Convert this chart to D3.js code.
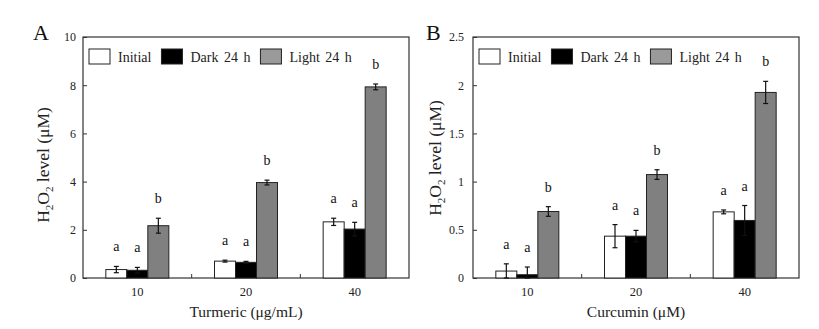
<!DOCTYPE html>
<html><head><meta charset="utf-8">
<script src="https://cdn.jsdelivr.net/npm/d3@7"></script>
<style>
body{margin:0;background:#fff;}
svg{display:block;font-family:"Liberation Serif","Times New Roman",serif;}
</style></head>
<body><svg id="c" width="819" height="329"></svg>
<script>
const categories = ["10", "20", "40"];
const seriesNames = ["Initial", "Dark 24 h", "Light 24 h"];
const seriesColors = ["#ffffff", "#000000", "#808080"];
const legendColors = ["#ffffff", "#000000", "#9a9a9a"];

// Panel A: Turmeric
const turmericInitial = [0.35, 0.70, 2.33];
const turmericDark    = [0.32, 0.65, 2.03];
const turmericLight   = [2.17, 3.96, 7.93];
const turmericInitialErr = [0.13, 0.04, 0.15];
const turmericDarkErr    = [0.12, 0.04, 0.28];
const turmericLightErr   = [0.31, 0.10, 0.12];
const turmericLetters = [["a","a","b"],["a","a","b"],["a","a","b"]];
const turmericTicks = [0, 2, 4, 6, 8, 10];

// Panel B: Curcumin
const curcuminInitial = [0.072, 0.434, 0.686];
const curcuminDark    = [0.034, 0.434, 0.597];
const curcuminLight   = [0.690, 1.073, 1.925];
const curcuminInitialErr = [0.075, 0.12, 0.02];
const curcuminDarkErr    = [0.08, 0.06, 0.155];
const curcuminLightErr   = [0.05, 0.05, 0.115];
const curcuminLetters = [["a","a","b"],["a","a","b"],["a","a","b"]];
const curcuminTicks = [0, 0.5, 1, 1.5, 2, 2.5];

const svg = d3.select("#c");

function drawPanel(o) {
  const g = svg.append("g");
  const x0 = d3.scaleBand().domain(categories).range([o.left, o.right]);
  const y = d3.scaleLinear().domain([0, o.ymax]).range([o.bottom, o.top]);
  const barW = 21;
  const x1 = d3.scaleBand().domain(seriesNames).range([0, barW * 3]);
  const vals = [o.initial, o.dark, o.light];
  const errs = [o.initialErr, o.darkErr, o.lightErr];

  g.append("rect").attr("x", o.left).attr("y", o.top)
    .attr("width", o.right - o.left).attr("height", o.bottom - o.top)
    .attr("fill", "none").attr("stroke", "#333").attr("stroke-width", 1.2);

  const yAxis = d3.axisLeft(y).tickValues(o.ticks).tickSize(-4).tickPadding(o.tickPad)
    .tickFormat(d => String(d));
  const ya = g.append("g").attr("transform", `translate(${o.left},0)`).call(yAxis);
  ya.select(".domain").remove();
  ya.selectAll("line").attr("stroke", "#333");
  ya.selectAll("text").attr("font-size", 12).attr("font-family", "Liberation Serif").attr("fill", "#222");

  const xa = g.append("g").attr("transform", `translate(0,${o.bottom})`)
    .call(d3.axisBottom(x0).tickSize(0).tickPadding(9));
  xa.select(".domain").remove();
  xa.selectAll("text").attr("font-size", 12.5).attr("font-family", "Liberation Serif").attr("fill", "#222");
  categories.slice(1).forEach(c => {
    const xx = x0(c);
    g.append("line").attr("x1", xx).attr("x2", xx).attr("y1", o.bottom).attr("y2", o.bottom - 4)
      .attr("stroke", "#333");
  });

  categories.forEach((c, ci) => {
    const cx = x0(c) + x0.bandwidth() / 2 - barW * 1.5;
    seriesNames.forEach((s, si) => {
      const v = vals[si][ci], e = errs[si][ci];
      const bx = cx + x1(s);
      g.append("rect").attr("x", bx).attr("y", y(v)).attr("width", barW)
        .attr("height", y(0) - y(v)).attr("fill", seriesColors[si])
        .attr("stroke", "#222").attr("stroke-width", 1);
      const mx = bx + barW / 2;
      const top = y(v + e), bot = y(Math.max(0, v - e));
      g.append("line").attr("x1", mx).attr("x2", mx).attr("y1", top).attr("y2", bot)
        .attr("stroke", "#111").attr("stroke-width", 1.2);
      [top, bot].forEach(yy => g.append("line").attr("x1", mx - 2.5).attr("x2", mx + 2.5)
        .attr("y1", yy).attr("y2", yy).attr("stroke", "#111").attr("stroke-width", 1.2));
      g.append("text").attr("x", mx).attr("y", top - 15).attr("text-anchor", "middle")
        .attr("font-size", 14).attr("fill", "#111").text(o.letters[ci][si]);
    });
  });

  let lx = o.left + 6;
  const ly = o.top + 12;
  seriesNames.forEach((s, si) => {
    g.append("rect").attr("x", lx).attr("y", ly).attr("width", 21).attr("height", 15)
      .attr("fill", legendColors[si]).attr("stroke", "#222").attr("stroke-width", 1);
    const t = g.append("text").attr("x", lx + 29).attr("y", ly + 12.5)
      .attr("font-size", 14).attr("fill", "#222").attr("word-spacing", 2).text(s);
    lx += 29 + t.node().getComputedTextLength() + 10;
  });

  g.append("text").attr("x", (o.left + o.right) / 2).attr("y", o.bottom + 39)
    .attr("text-anchor", "middle").attr("font-size", 15.5).attr("fill", "#222").text(o.xTitle);
  const yt = g.append("text").attr("transform", `translate(${o.yTitleX},${o.yTitleY}) rotate(-90)`)
    .attr("text-anchor", "middle").attr("font-size", 17.5).attr("fill", "#222");
  yt.append("tspan").text("H");
  yt.append("tspan").attr("font-size", 11).attr("dy", 4).text("2");
  yt.append("tspan").attr("dy", -4).text("O");
  yt.append("tspan").attr("font-size", 11).attr("dy", 4).text("2");
  yt.append("tspan").attr("dy", -4).text(" level (μM)");

  g.append("text").attr("x", o.labelX).attr("y", 40).attr("font-size", 22)
    .attr("fill", "#111").text(o.panelLabel);
}

drawPanel({
  left: 83, right: 409, top: 37, bottom: 278, ymax: 10, ticks: turmericTicks, tickPad: 7,
  initial: turmericInitial, dark: turmericDark, light: turmericLight,
  initialErr: turmericInitialErr, darkErr: turmericDarkErr, lightErr: turmericLightErr,
  letters: turmericLetters, xTitle: "Turmeric (μg/mL)", yTitleX: 49, yTitleY: 165,
  panelLabel: "A", labelX: 33
});
drawPanel({
  left: 473, right: 799, top: 37, bottom: 278, ymax: 2.5, ticks: curcuminTicks, tickPad: 9,
  initial: curcuminInitial, dark: curcuminDark, light: curcuminLight,
  initialErr: curcuminInitialErr, darkErr: curcuminDarkErr, lightErr: curcuminLightErr,
  letters: curcuminLetters, xTitle: "Curcumin (μM)", yTitleX: 441, yTitleY: 158,
  panelLabel: "B", labelX: 426
});
</script></body></html>
